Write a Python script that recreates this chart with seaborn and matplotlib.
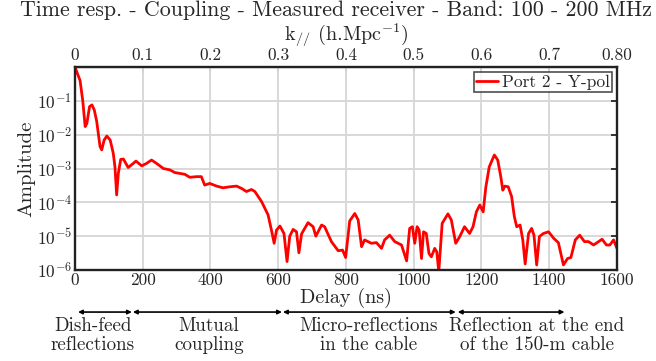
import numpy as np
import pandas as pd
import matplotlib
matplotlib.use('Agg')
import matplotlib.pyplot as plt
import seaborn as sns

# delay (ns) and log10(amplitude)
delay_ns = [0, 15, 23, 30, 35, 43, 50, 57, 64, 74, 79, 86, 94, 104, 113, 118, 123, 128,
            135, 143, 157, 172, 180, 197, 211, 226, 241, 261, 280, 295, 324, 339, 359,
            373, 383, 398, 418, 437, 457, 477, 492, 506, 521, 531, 551, 570, 580, 588,
            595, 605, 617, 626, 634, 644, 654, 661, 669, 688, 703, 711, 728, 737, 757,
            777, 790, 799, 811, 826, 836, 846, 855, 875, 890, 905, 914, 929, 944, 964,
            979, 988, 996, 1003, 1010, 1016, 1023, 1029, 1037, 1045, 1052, 1062, 1068,
            1074, 1084, 1101, 1111, 1124, 1136, 1150, 1165, 1175, 1185, 1195, 1205,
            1213, 1223, 1238, 1248, 1257, 1263, 1269, 1279, 1289, 1297, 1304, 1314,
            1322, 1329, 1339, 1348, 1355, 1363, 1371, 1383, 1398, 1413, 1427, 1442,
            1454, 1464, 1477, 1490, 1504, 1516, 1531, 1546, 1556, 1569, 1579, 1590, 1600]
log_amp = [0.0, -0.4, -1.0, -1.76, -1.67, -1.17, -1.12, -1.27, -1.6, -2.35, -2.45, -2.16,
           -2.04, -2.16, -2.55, -2.95, -3.78, -3.14, -2.73, -2.72, -2.97, -2.85, -2.78,
           -2.92, -2.85, -2.75, -2.85, -3.0, -3.04, -3.12, -3.17, -3.26, -3.24, -3.24,
           -3.49, -3.44, -3.52, -3.57, -3.54, -3.52, -3.59, -3.68, -3.62, -3.68, -3.98,
           -4.37, -4.82, -5.21, -4.82, -4.7, -4.92, -5.75, -5.0, -4.8, -4.87, -5.49,
           -4.93, -4.6, -4.72, -5.0, -4.67, -4.72, -5.16, -5.43, -5.41, -5.63, -4.55,
           -4.33, -4.52, -5.31, -5.11, -5.21, -5.19, -5.36, -5.11, -4.97, -5.16, -5.26,
           -5.73, -4.77, -4.72, -5.21, -4.72, -4.82, -5.66, -4.87, -4.92, -5.51, -5.61,
           -5.36, -5.46, -6.05, -4.62, -4.34, -4.52, -5.21, -5.01, -4.72, -4.92, -4.72,
           -4.28, -4.08, -4.28, -3.54, -2.95, -2.6, -2.75, -3.24, -3.64, -3.52, -3.54,
           -3.83, -4.42, -4.72, -4.67, -5.11, -5.82, -4.92, -4.77, -4.97, -5.85, -5.01,
           -4.92, -4.87, -5.06, -5.19, -5.85, -5.66, -5.63, -5.11, -4.97, -5.16, -5.16,
           -5.26, -5.16, -5.09, -5.26, -5.26, -5.11, -5.36]

k_ticks = [0, 0.1, 0.2, 0.3, 0.4, 0.5, 0.6, 0.7, 0.8]
k_labels = ['0', '0.1', '0.2', '0.3', '0.4', '0.5', '0.6', '0.7', '0.80']
x_ticks = [0, 200, 400, 600, 800, 1000, 1200, 1400, 1600]
y_ticks = [1e-1, 1e-2, 1e-3, 1e-4, 1e-5, 1e-6]

# regions below the axis: (start ns, end ns, text centre ns, text)
regions = [(9, 168, 53, 'Dish-feed\nreflections'),
           (171, 611, 395, 'Mutual\ncoupling'),
           (614, 1124, 867, 'Micro-reflections\nin the cable'),
           (1130, 1445, 1363, 'Reflection at the end\nof the 150-m cable')]

sns.set_style('white')
plt.rcParams['font.family'] = ['cmr10']
plt.rcParams['mathtext.fontset'] = 'cm'
plt.rcParams['axes.formatter.use_mathtext'] = True
plt.rcParams['axes.unicode_minus'] = False

df = pd.DataFrame({'Delay (ns)': delay_ns, 'Amplitude': 10 ** np.array(log_amp)})

fig = plt.figure(figsize=(6.56, 3.61), dpi=100)
ax = fig.add_axes([0.1143, 0.252, 0.8262, 0.5624])

sns.lineplot(data=df, x='Delay (ns)', y='Amplitude', color='red', linewidth=2,
             label='Port 2 - Y-pol', ax=ax)
ax.set_yscale('log')
ax.set_xlim(0, 1600)
ax.set_ylim(1e-6, 1)
ax.set_xticks(x_ticks)
ax.set_xticklabels([str(t) for t in x_ticks])
ax.set_yticks(y_ticks)
ax.set_yticklabels([r'$10^{%d}$' % int(np.log10(t)) for t in y_ticks])
ax.tick_params(axis='both', which='major', direction='in', length=4, width=1.3,
               labelsize=12.5, top=False, right=True, pad=2)
ax.tick_params(axis='y', which='minor', direction='in', length=2.2, width=0.9, right=True)
ax.grid(True, which='major', color='#d8d8d8', linewidth=1.4)
for s in ax.spines.values():
    s.set_linewidth(1.7)
    s.set_color('#222222')

ax.set_xlabel('Delay (ns)', fontsize=14.5, labelpad=0)
ax.set_ylabel('Amplitude', fontsize=15, labelpad=1)

sec = ax.secondary_xaxis('top', functions=(lambda x: x * 0.8 / 1600, lambda k: k * 1600 / 0.8))
sec.set_xticks(k_ticks)
sec.set_xticklabels(k_labels)
sec.tick_params(direction='in', length=4, width=1.3, labelsize=12.5, pad=3)
sec.set_xlabel(r'k$_{//}$ (h.Mpc$^{-1}$)', fontsize=14.5, labelpad=5)

fig.text(0.512, 0.972, 'Time resp. - Coupling - Measured receiver - Band: 100 - 200 MHz',
         ha='center', va='center', fontsize=15.8)

leg = ax.legend(loc='upper right', fontsize=12.5, frameon=True, fancybox=False,
                handlelength=1.3, handletextpad=0.2, borderpad=0.12,
                borderaxespad=0.3)
leg.get_frame().set_edgecolor('#222222')
leg.get_frame().set_linewidth(1.2)

trans = ax.get_xaxis_transform()
for start, end, mid, txt in regions:
    ax.annotate('', xy=(start, -0.207), xytext=(end, -0.207), xycoords=trans,
                textcoords=trans, annotation_clip=False,
                arrowprops=dict(arrowstyle='<|-|>', color='black', lw=1.2,
                                shrinkA=0, shrinkB=0, mutation_scale=6))
    ax.text(mid, -0.323, txt, transform=trans, ha='center', va='center',
            fontsize=13.7, linespacing=1.1, clip_on=False)

plt.savefig('out.png', dpi=100)
plt.close()
